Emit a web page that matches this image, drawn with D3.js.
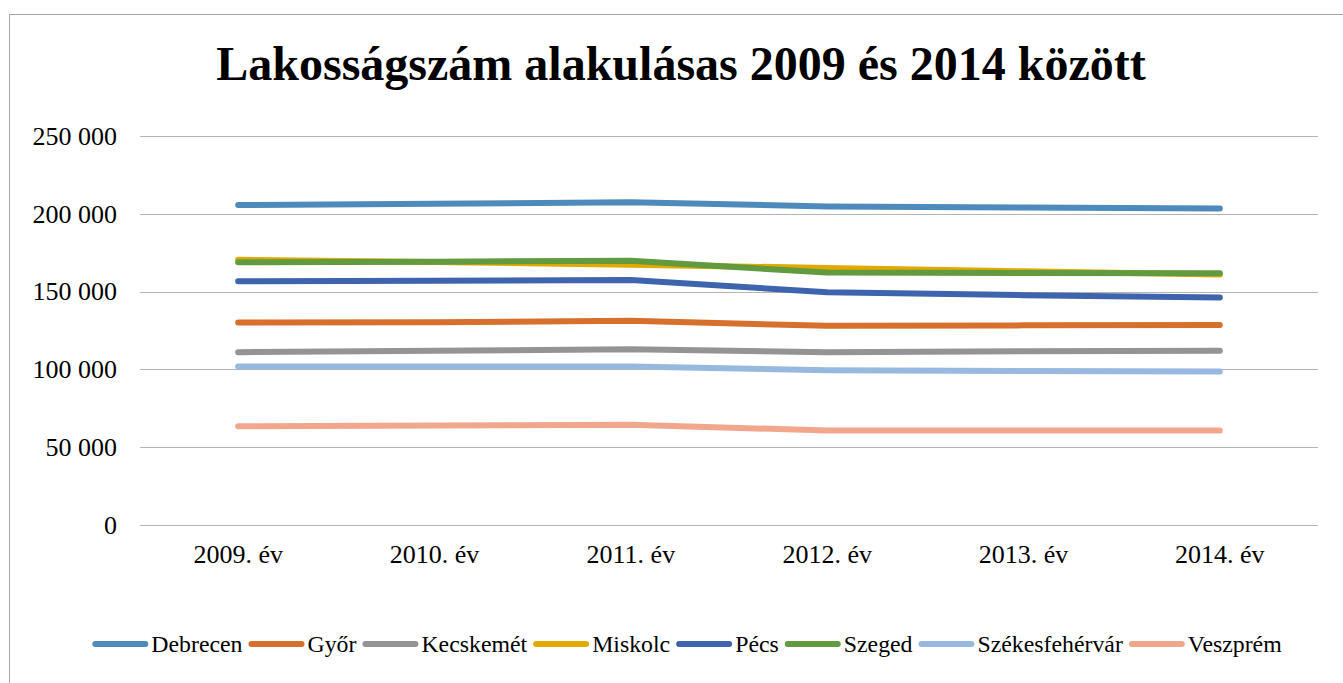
<!DOCTYPE html>
<meta charset="utf-8">
<title>Lakosságszám</title>
<style>
body { margin: 0; background: #fff; }
svg { display: block; font-family: "Liberation Serif", "Times New Roman", serif; }
.grid line { stroke: #b4b4b4; stroke-width: 1; }
.axis text { font-family: "Liberation Serif", "Times New Roman", serif; font-size: 26px; fill: #000; }
.serie { fill: none; stroke-width: 6; stroke-linecap: round; stroke-linejoin: round; }
</style>
<body>
<svg id="chart" width="1343" height="683"></svg>
<script src="https://d3js.org/d3.v7.min.js"></script>
<script>
// adatok
var years = ["2009. év", "2010. év", "2011. év", "2012. év", "2013. év", "2014. év"];
var cities = ["Debrecen", "Győr", "Kecskemét", "Miskolc", "Pécs", "Szeged", "Székesfehérvár", "Veszprém"];
var colors = ["#4f8abd", "#d6702c", "#949494", "#e2aa00", "#3d64ad", "#629a3f", "#97b9e0", "#f1a78b"];
var debrecen = [205600, 206400, 207500, 204700, 204000, 203400];
var gyor = [130100, 130300, 131200, 128000, 128300, 128600];
var kecskemet = [111100, 112000, 113000, 111100, 111700, 112000];
var miskolc = [170500, 169000, 167300, 165200, 163000, 161000];
var pecs = [156600, 157000, 157500, 149600, 147700, 146200];
var szeged = [168800, 169200, 169900, 162200, 162000, 161800];
var szekesfehervar = [101900, 101800, 101900, 99400, 99000, 98700];
var veszprem = [63460, 63900, 64500, 60700, 60700, 60700];
var yTicks = [0, 50000, 100000, 150000, 200000, 250000];

var series = [debrecen, gyor, kecskemet, miskolc, pecs, szeged, szekesfehervar, veszprem];

var svg = d3.select("#chart");

// keret
svg.append("rect")
    .attr("x", 9.5).attr("y", 14.5)
    .attr("width", 1350).attr("height", 700)
    .attr("fill", "none").attr("stroke", "#a6a6a6");

svg.append("text")
    .attr("x", 681).attr("y", 80)
    .attr("text-anchor", "middle")
    .attr("font-size", 48).attr("font-weight", "bold")
    .text("Lakosságszám alakulásas 2009 és 2014 között");

var x = d3.scaleBand().domain(years).range([140, 1318]);
var y = d3.scaleLinear().domain([0, 250000]).range([525, 136]);

var fmt = function(d) { return d3.format(",")(d).replace(/,/g, " "); };

svg.append("g").attr("class", "grid")
  .selectAll("line").data(yTicks).enter().append("line")
    .attr("x1", 140).attr("x2", 1318)
    .attr("y1", function(d) { return Math.round(y(d)) + 0.5; })
    .attr("y2", function(d) { return Math.round(y(d)) + 0.5; });

var ya = svg.append("g").attr("class", "axis")
    .attr("transform", "translate(117,0)")
    .call(d3.axisLeft(y).tickValues(yTicks).tickSize(0).tickPadding(0).tickFormat(fmt));
ya.select(".domain").remove();
ya.selectAll("text").attr("dy", "0.32em");

var xa = svg.append("g").attr("class", "axis")
    .attr("transform", "translate(0,525)")
    .call(d3.axisBottom(x).tickSize(0).tickPadding(20));
xa.select(".domain").remove();

var line = d3.line()
    .x(function(d, i) { return x(years[i]) + x.bandwidth() / 2; })
    .y(function(d) { return y(d); });

svg.selectAll(".serie").data(series).enter().append("path")
    .attr("class", "serie")
    .attr("stroke", function(d, i) { return colors[i]; })
    .attr("d", line);

// jelmagyarázat
var lg = svg.append("g").attr("font-size", 23.8);
var cx = 0;
cities.forEach(function(c, i) {
    lg.append("line")
        .attr("x1", cx + 3).attr("x2", cx + 53)
        .attr("y1", 644).attr("y2", 644)
        .attr("stroke", colors[i]).attr("stroke-width", 6).attr("stroke-linecap", "round");
    var t = lg.append("text").attr("x", cx + 59).attr("y", 652).text(c);
    cx += 59 + t.node().getComputedTextLength() + 6;
});
var w = cx - 6;
lg.attr("transform", "translate(" + (687 - w / 2) + ",0)");
</script>
</body>
